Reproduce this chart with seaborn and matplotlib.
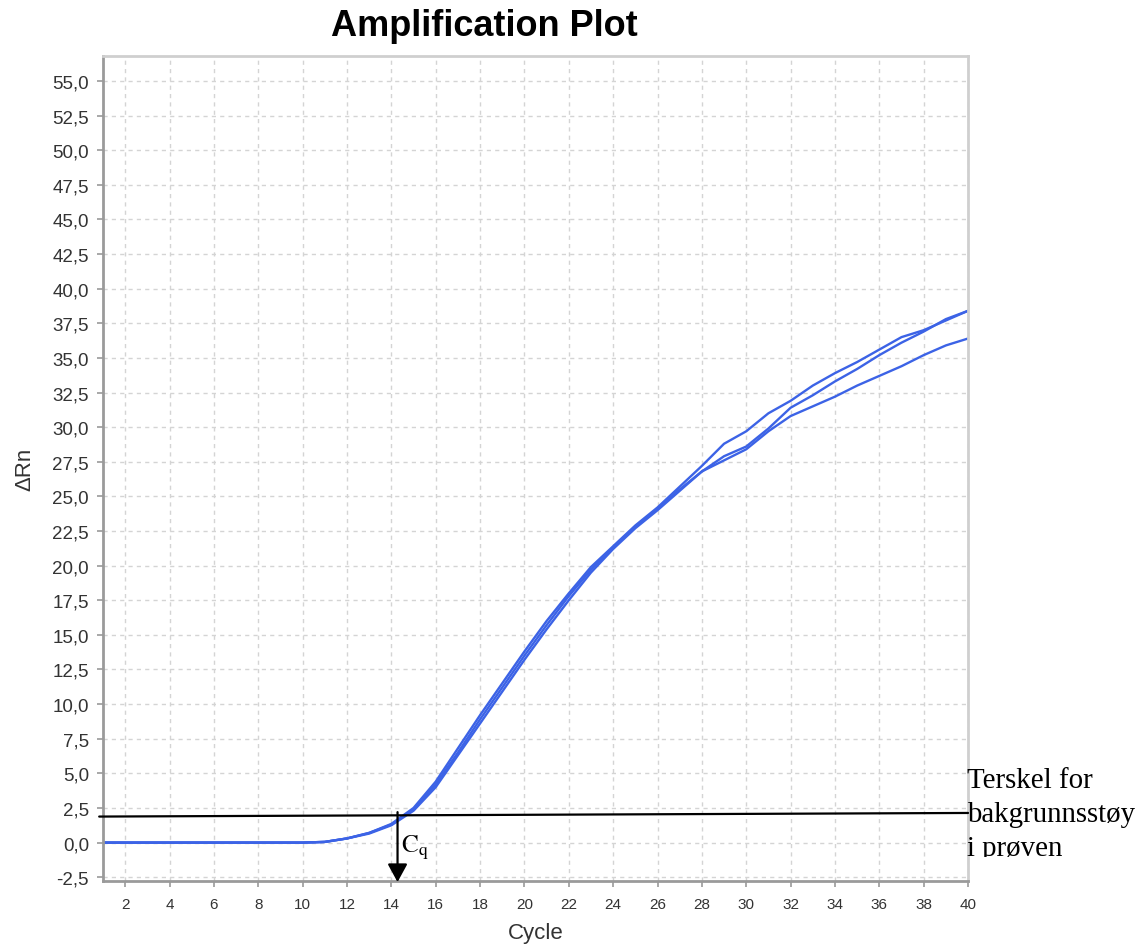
import numpy as np
import pandas as pd
import matplotlib
matplotlib.use("Agg")
import matplotlib.pyplot as plt
import seaborn as sns
from matplotlib.ticker import FuncFormatter
from matplotlib.transforms import Bbox, TransformedBbox

# ---- data ----
cycles = list(range(1, 41))
well_a = [0, 0, 0, 0, 0, 0, 0, 0, 0, 0,
          0.05, 0.3, 0.7, 1.35, 2.5, 4.4, 6.8, 9.2, 11.5, 13.8,
          16.0, 18.0, 19.9, 21.4, 22.9, 24.2, 25.7, 27.2, 28.8, 29.7,
          31.0, 31.9, 33.0, 33.9, 34.7, 35.6, 36.5, 37.0, 37.7, 38.4]
well_b = [0, 0, 0, 0, 0, 0, 0, 0, 0, 0,
          0.05, 0.3, 0.7, 1.3, 2.4, 4.2, 6.5, 8.9, 11.2, 13.5,
          15.7, 17.8, 19.7, 21.3, 22.8, 24.1, 25.5, 26.8, 27.9, 28.6,
          29.9, 31.4, 32.3, 33.3, 34.2, 35.2, 36.1, 36.9, 37.8, 38.4]
well_c = [0, 0, 0, 0, 0, 0, 0, 0, 0, 0,
          0.05, 0.3, 0.65, 1.25, 2.3, 4.0, 6.3, 8.6, 10.9, 13.2,
          15.4, 17.5, 19.5, 21.2, 22.7, 24.0, 25.4, 26.8, 27.6, 28.4,
          29.7, 30.8, 31.5, 32.2, 33.0, 33.7, 34.4, 35.2, 35.9, 36.4]

threshold_x = [0.83, 40.0]
threshold_y = [1.88, 2.14]
cq_cycle = 14.28
cq_top = 2.2
cq_bottom = -2.85

title = "Amplification Plot"
x_label = "Cycle"
y_label = "ΔRn"
cq_label = r"$\mathrm{C_q}$"
threshold_label = "Terskel for\nbakgrunnsstøy\ni prøven"

x_ticks = list(range(2, 41, 2))
y_ticks = [-2.5 + 2.5 * i for i in range(24)]

df = pd.DataFrame({"Cycle": cycles * 3,
                   "dRn": well_a + well_b + well_c,
                   "well": ["A"] * 40 + ["B"] * 40 + ["C"] * 40})

# ---- plot ----
sns.set_theme(style="white")
plt.rcParams["font.family"] = ["Liberation Sans", "DejaVu Sans"]
plt.rcParams["mathtext.fontset"] = "stix"

fig = plt.figure(figsize=(11.44, 9.45), dpi=100)
ax = fig.add_axes([0.0900, 0.0670, 0.8462 - 0.0900, 0.9397 - 0.0670])

line_color = "#3c63e6"
sns.lineplot(data=df, x="Cycle", y="dRn", hue="well", units="well", estimator=None,
             palette=[line_color] * 3, legend=False, lw=1.7, ax=ax)

ax.set_xlim(1, 40)
ax.set_ylim(-2.75, 56.8)
ax.set_xticks(x_ticks)
ax.set_yticks(y_ticks)
ax.yaxis.set_major_formatter(FuncFormatter(lambda v, p: f"{v:.1f}".replace(".", ",")))

ax.grid(True, color="#d4d4d4", linestyle=(0, (3, 3)), linewidth=1.0)
ax.set_axisbelow(True)

for side in ["left", "bottom"]:
    ax.spines[side].set_color("#9a9a9a")
    ax.spines[side].set_linewidth(2.0)
for side in ["top", "right"]:
    ax.spines[side].set_visible(True)
    ax.spines[side].set_color("#cfcfcf")
    ax.spines[side].set_linewidth(2.0)

ax.tick_params(axis="both", direction="out", length=4, width=1.2, color="#9a9a9a",
               labelcolor="#333333", bottom=True, left=True)
ax.tick_params(axis="y", labelsize=13.5, pad=6)
ax.tick_params(axis="x", labelsize=11, pad=8)

ax.set_xlabel(x_label, fontsize=16, color="#333333", labelpad=8)
ax.set_ylabel(y_label, fontsize=16, color="#333333", labelpad=12)

fig.text(484 / 1144, 1 - 27 / 945, title, fontsize=26, fontweight="bold",
         ha="center", va="center", color="black")

# threshold line
ax.plot(threshold_x, threshold_y, color="black", lw=1.6, clip_on=False, zorder=5)

# Cq arrow
ax.annotate("", xy=(cq_cycle, cq_bottom), xytext=(cq_cycle, cq_top),
            arrowprops=dict(arrowstyle="-|>,head_length=0.55,head_width=0.3",
                            mutation_scale=20, lw=1.6, color="black",
                            shrinkA=0, shrinkB=0),
            annotation_clip=False, zorder=6)
ax.text(cq_cycle + 0.15, -0.67, cq_label, fontsize=18, ha="left", va="baseline",
        color="black")

# threshold label (clipped at the bottom like the source text box)
t = fig.text(967 / 1144, 1 - 856 / 945, threshold_label, fontsize=20.8,
             family=["Liberation Serif", "DejaVu Serif"], ha="left", va="baseline",
             color="black", linespacing=1.41)
t.set_clip_box(TransformedBbox(Bbox.from_extents(0, 1 - 858 / 945, 1, 1), fig.transFigure))
t.set_clip_on(True)

fig.savefig("out.png", dpi=100)
